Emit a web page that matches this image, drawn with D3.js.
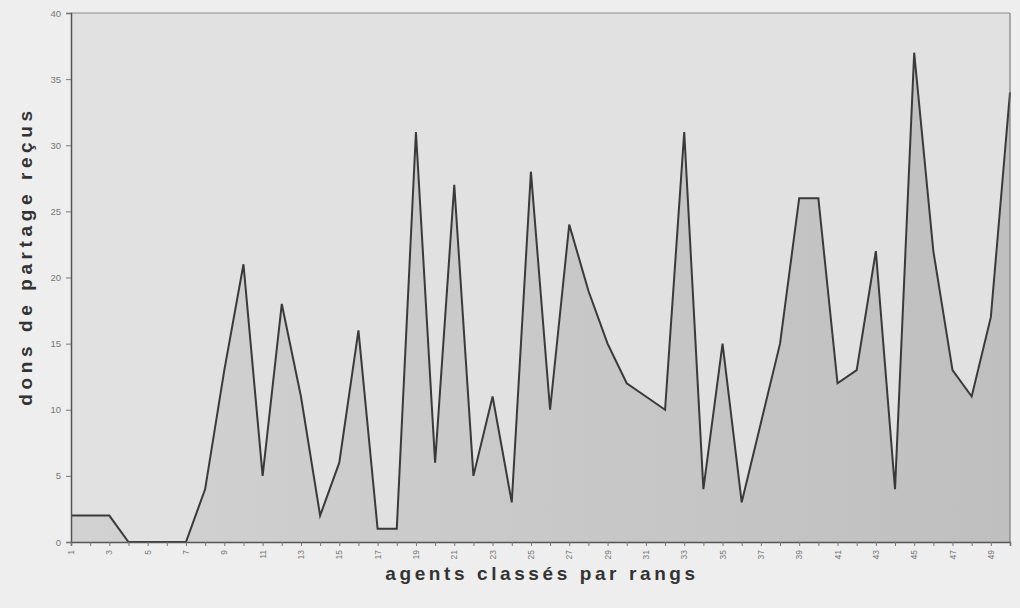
<!DOCTYPE html>
<html>
<head>
<meta charset="utf-8">
<script src="https://cdn.jsdelivr.net/npm/d3@7"></script>
<style>
  html, body { margin: 0; padding: 0; background: #eeeeee; }
  svg { display: block; }
</style>
</head>
<body>
<svg id="chart" width="1020" height="608"></svg>
<script>
// ---- data ----
const ranks = d3.range(1, 51);
const dons = [2, 2, 2, 0, 0, 0, 0, 4, 13, 21,
              5, 18, 11, 2, 6, 16, 1, 1, 31, 6,
              27, 5, 11, 3, 28, 10, 24, 19, 15, 12,
              11, 10, 31, 4, 15, 3, 9, 15, 26, 26,
              12, 13, 22, 4, 37, 22, 13, 11, 17, 34];
const yTicks = [0, 5, 10, 15, 20, 25, 30, 35, 40];
const xTickLabels = d3.range(1, 50, 2);
const yTitle = "dons de partage reçus";
const xTitle = "agents classés par rangs";

// ---- layout ----
const svg = d3.select("#chart");
const L = 71, R = 1010, T = 13, B = 542;

const x = d3.scaleLinear().domain([1, 50]).range([L, R]);
const y = d3.scaleLinear().domain([0, 40]).range([B, T]);

const data = ranks.map((r, i) => ({ r, v: dons[i] }));

// plot background
svg.append("rect")
  .attr("x", L).attr("y", T).attr("width", R - L).attr("height", B - T)
  .attr("fill", "#e1e1e1");

// gradient for area fill
const defs = svg.append("defs");
const grad = defs.append("linearGradient").attr("id", "ag")
  .attr("x1", 0).attr("y1", 0).attr("x2", 1).attr("y2", 0);
grad.append("stop").attr("offset", "0%").attr("stop-color", "#d2d2d2");
grad.append("stop").attr("offset", "100%").attr("stop-color", "#bfbfbf");

// area
const area = d3.area()
  .x(d => x(d.r))
  .y0(y(0))
  .y1(d => y(d.v));
svg.append("path")
  .datum(data)
  .attr("d", area)
  .attr("fill", "url(#ag)");

// line
const line = d3.line()
  .x(d => x(d.r))
  .y(d => y(d.v));
svg.append("path")
  .datum(data)
  .attr("d", line)
  .attr("fill", "none")
  .attr("stroke", "#3a3a3a")
  .attr("stroke-width", 2)
  .attr("stroke-linejoin", "miter");

// frame top/right
svg.append("line").attr("x1", L).attr("x2", R).attr("y1", T).attr("y2", T)
  .attr("stroke", "#8a8a8a").attr("stroke-width", 1);
svg.append("line").attr("x1", R).attr("x2", R).attr("y1", T).attr("y2", B)
  .attr("stroke", "#6a6a6a").attr("stroke-width", 1);

// y axis
const yAxis = d3.axisLeft(y).tickValues(yTicks).tickSize(5).tickPadding(5);
const gy = svg.append("g").attr("transform", `translate(${L},0)`).call(yAxis);
gy.select(".domain").attr("stroke", "#555").attr("stroke-width", 1.5);
gy.selectAll(".tick line").attr("stroke", "#777");
gy.selectAll(".tick text")
  .attr("fill", "#777")
  .style("font-family", "Arial, 'Liberation Sans', sans-serif")
  .style("font-size", "9.5px");

// x axis: tick marks at every rank, labels at odd ranks
const xAxis = d3.axisBottom(x).tickValues(ranks).tickSize(4).tickFormat("");
const gx = svg.append("g").attr("transform", `translate(0,${B})`).call(xAxis);
gx.select(".domain").attr("stroke", "#555").attr("stroke-width", 1.5);
gx.selectAll(".tick line").attr("stroke", "#777");

svg.append("g").selectAll("text")
  .data(xTickLabels)
  .join("text")
  .attr("transform", d => `translate(${x(d) + 3},550) rotate(-90)`)
  .attr("text-anchor", "end")
  .attr("fill", "#777")
  .style("font-family", "Arial, 'Liberation Sans', sans-serif")
  .style("font-size", "8.5px")
  .text(d => d);

// axis titles
svg.append("text")
  .attr("transform", `translate(32,256) rotate(-90)`)
  .attr("text-anchor", "middle")
  .attr("fill", "#333")
  .style("font-family", "Arial, 'Liberation Sans', sans-serif")
  .style("font-weight", "bold")
  .style("font-size", "19px")
  .style("letter-spacing", "4.6px")
  .text(yTitle);

svg.append("text")
  .attr("x", 542)
  .attr("y", 580)
  .attr("text-anchor", "middle")
  .attr("fill", "#333")
  .style("font-family", "Arial, 'Liberation Sans', sans-serif")
  .style("font-weight", "bold")
  .style("font-size", "19px")
  .style("letter-spacing", "3.6px")
  .text(xTitle);
</script>
</body>
</html>
